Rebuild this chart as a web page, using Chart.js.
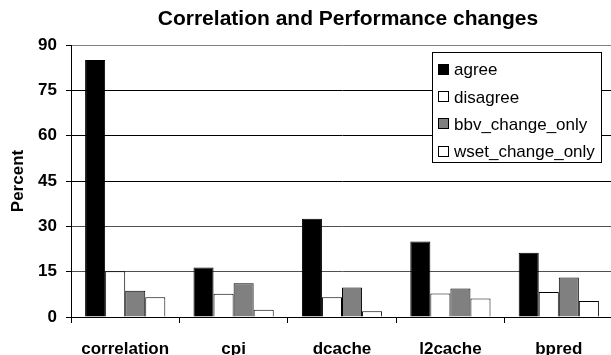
<!DOCTYPE html>
<html>
<head>
<meta charset="utf-8">
<script src="https://cdn.jsdelivr.net/npm/chart.js@4/dist/chart.umd.min.js"></script>
<style>
  html, body { margin: 0; padding: 0; background: #fff; overflow: hidden; }
  #wrap { width: 614px; height: 355px; }
</style>
</head>
<body>
<div id="wrap"><canvas id="c" width="614" height="355"></canvas></div>
<script>
const categories = ["correlation", "cpi", "dcache", "l2cache", "bpred"];
const agree = [85, 16.4, 32.5, 25, 21.3];
const disagree = [15.1, 7.7, 6.5, 7.8, 8.3];
const bbvChangeOnly = [8.7, 11.2, 9.8, 9.4, 13.1];
const wsetChangeOnly = [6.5, 2.4, 1.9, 6.1, 5.3];
const yTicks = [0, 15, 30, 45, 60, 75, 90];

const FONT = "'Liberation Sans', Arial, sans-serif";

const insideLegend = {
  id: 'insideLegend',
  afterDraw(chart) {
    const ctx = chart.ctx;
    const x0 = 432.5, y0 = 52.5, w = 169, h = 110;
    ctx.save();
    ctx.fillStyle = '#fff';
    ctx.fillRect(x0, y0, w, h);
    ctx.strokeStyle = '#000';
    ctx.lineWidth = 1;
    ctx.strokeRect(x0, y0, w, h);
    ctx.font = '17px ' + FONT;
    ctx.textBaseline = 'middle';
    ctx.textAlign = 'left';
    chart.data.datasets.forEach((ds, i) => {
      const cy = 69.5 + i * 27.4;
      ctx.fillStyle = ds.backgroundColor;
      ctx.fillRect(438.5, Math.round(cy) - 5.5, 10, 10);
      ctx.strokeStyle = '#000';
      ctx.strokeRect(438.5, Math.round(cy) - 5.5, 10, 10);
      ctx.fillStyle = '#000';
      ctx.fillText(ds.label, 454, cy + 1);
    });
    ctx.restore();
  }
};

const shiftTitle = {
  id: 'shiftTitle',
  afterLayout(chart) {
    const t = chart.titleBlock;
    if (t) { t.left += 6; t.right += 6; }
  }
};

const mk = (label, data, color) => ({
  label, data,
  backgroundColor: color,
  borderColor: '#000',
  borderWidth: 1,
  borderSkipped: 'bottom'
});

new Chart(document.getElementById('c'), {
  type: 'bar',
  data: {
    labels: categories,
    datasets: [
      mk('agree', agree, '#000000'),
      mk('disagree', disagree, '#ffffff'),
      mk('bbv_change_only', bbvChangeOnly, '#808080'),
      mk('wset_change_only', wsetChangeOnly, '#ffffff')
    ]
  },
  options: {
    responsive: false,
    animation: false,
    devicePixelRatio: 1,
    layout: { padding: { left: 0, right: 1, top: 0, bottom: 0 } },
    datasets: { bar: { categoryPercentage: 0.74, barPercentage: 1.0 } },
    plugins: {
      legend: { display: false },
      tooltip: { enabled: false },
      title: {
        display: true,
        fullSize: false,
        text: 'Correlation and Performance changes',
        color: '#000',
        font: { family: FONT, size: 21, weight: 'bold' },
        padding: { top: 7, bottom: 12.8 }
      }
    },
    scales: {
      x: {
        grid: { drawOnChartArea: false, drawTicks: true, tickLength: 6, color: '#000', offset: true },
        border: { color: '#000', width: 1 },
        ticks: { color: '#000', padding: 16, maxRotation: 0, autoSkip: false,
                 font: { family: FONT, size: 17, weight: 'bold' } },
        afterFit(s) { s.height = 38; }
      },
      y: {
        min: 0, max: 90,
        afterBuildTicks(s) { s.ticks = yTicks.map(v => ({ value: v })); },
        grid: {
          tickLength: 5,
          color(ctx) {
            const v = ctx.tick ? ctx.tick.value : 0;
            if (v === 90) return '#808080';
            if (v === 30 || v === 15) return '#505050';
            return '#000';
          },
          tickColor: '#000'
        },
        border: { color: '#000', width: 1 },
        ticks: { color: '#000', padding: 9,
                 font: { family: FONT, size: 17, weight: 'bold' } },
        title: {
          display: true, text: 'Percent', color: '#000',
          font: { family: FONT, size: 17, weight: 'bold' },
          padding: { top: 8, bottom: 0 }
        },
        afterFit(s) { s.width = 71; }
      }
    }
  },
  plugins: [insideLegend, shiftTitle]
});
</script>
</body>
</html>
